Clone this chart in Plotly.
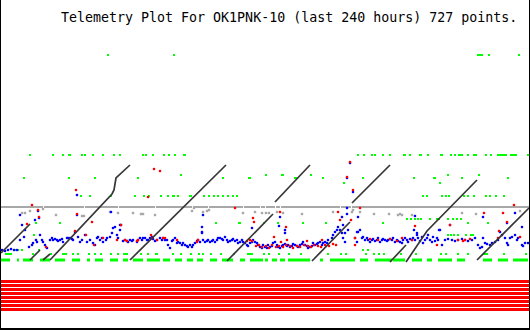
import plotly.graph_objects as go

# ---------------- data (x: time index across plot, y: plotted level, screen-like units) -------------
title_text = "Telemetry Plot For OK1PNK-10 (last 240 hours) 727 points."

# bottom saturated channel (red horizontal stripes)
red_stripe_levels = [281.5, 285.5, 289.5, 293.5, 297.5, 301.5, 305.5, 309.5]

# gray reference channel
gray_line_level = 207
gray_line_spans = [(1, 43), (44, 84), (85, 118), (119, 155), (156, 192), (193, 208), (209, 243),
                   (244, 260), (261, 265), (266, 275), (276, 280), (281, 340), (341, 351), (352, 529)]
gray_points = [(22, 213), (25, 213), (30, 211), (43, 209), (56, 215), (82, 216), (84, 216), (110, 212),
               (118, 213), (133, 213), (141, 214), (143, 214), (155, 215), (192, 211), (194, 208),
               (203, 212), (207, 211), (209, 210), (243, 213), (255, 212), (262, 213), (266, 213),
               (269, 213), (277, 212), (283, 213), (302, 214), (333, 212), (352, 212), (353, 210),
               (360, 212), (374, 214), (389, 214), (398, 215), (400, 214), (402, 215), (412, 215),
               (462, 213), (476, 214), (520, 211)]

# green channel rows: (level, [(x_start, x_end), ...])
green_row_55 = [(107, 109), (173, 175), (477, 483), (488, 490), (518, 520)]
green_row_155 = [(29, 31), (52, 54), (62, 64), (68, 71), (81, 83), (84, 86), (92, 94), (102, 104),
                 (113, 115), (119, 121), (142, 144), (145, 147), (152, 154), (163, 165), (168, 170),
                 (174, 176), (183, 186), (357, 359), (363, 365), (371, 373), (374, 376), (382, 384),
                 (389, 391), (403, 406), (409, 411), (419, 422), (427, 429), (440, 443), (450, 452),
                 (454, 456), (458, 463), (467, 469), (473, 477), (485, 487), (490, 492), (497, 507),
                 (510, 517), (527, 529)]
green_row_175 = [(180, 182), (265, 267), (281, 284), (310, 312), (447, 449), (478, 480)]
green_row_178 = [(23, 25), (68, 70), (94, 96), (137, 139), (222, 224), (248, 251), (294, 297),
                 (322, 324), (362, 364), (413, 415), (433, 436), (461, 463), (507, 509)]
green_row_183 = [(439, 441), (343, 345)]
green_row_196 = [(80, 82), (89, 91), (110, 112), (134, 136), (143, 145), (148, 150), (160, 162),
                 (167, 169), (172, 175), (177, 179), (189, 192), (203, 205), (208, 210), (213, 215),
                 (217, 219), (222, 224), (227, 229), (232, 234), (236, 238), (422, 424), (426, 428),
                 (441, 443), (445, 447), (448, 450), (463, 465), (467, 469), (473, 475), (485, 487),
                 (489, 491), (495, 497), (503, 505)]
green_row_219 = [(406, 408), (410, 412), (414, 416), (417, 419), (420, 422), (429, 431), (436, 440),
                 (447, 449), (452, 454), (456, 458), (460, 462)]
green_row_223 = [(35, 37), (59, 61), (215, 217), (238, 241), (263, 265), (277, 279), (302, 304),
                 (325, 327), (382, 384), (467, 469), (487, 489)]
green_row_235 = [(447, 449), (450, 452), (453, 455), (457, 459), (465, 467), (470, 474), (33, 35)]
green_row_250 = [(13, 19), (21, 23), (38, 40), (362, 364), (367, 369)]
green_row_254 = [(5, 12), (32, 34), (50, 52), (62, 67), (72, 74), (77, 79), (88, 90), (94, 96),
                 (100, 102), (110, 112), (117, 119), (123, 128), (140, 142), (147, 149), (155, 158),
                 (172, 174), (180, 182), (190, 192), (198, 200), (202, 204), (210, 212), (220, 222),
                 (233, 235), (247, 253), (263, 265), (268, 270), (278, 280), (288, 290), (300, 302),
                 (327, 329), (340, 342), (345, 347), (365, 367), (373, 375), (378, 380), (383, 385),
                 (400, 402), (415, 417), (440, 442), (445, 447), (457, 459), (467, 469), (483, 488),
                 (503, 505), (525, 527)]
green_row_260 = [(1, 10), (17, 19), (23, 33), (40, 50), (55, 65), (72, 80), (87, 90), (95, 103),
                 (110, 118), (123, 128), (133, 143), (147, 160), (163, 170), (175, 182), (187, 193),
                 (197, 203), (210, 217), (222, 233), (240, 245), (250, 263), (265, 268), (272, 277),
                 (280, 285), (288, 310), (320, 323), (330, 355), (360, 368), (375, 392), (393, 405),
                 (412, 422), (427, 432), (438, 452), (457, 465), (483, 492), (498, 508), (513, 528)]

# blue channel (main noisy band plus excursions)
blue_points = [
    (2, 250), (5, 251), (8, 250), (11, 249), (14, 250), (17, 250), (20, 240), (24, 237), (25, 230),
    (29, 247), (32, 245), (33, 243), (36, 240), (37, 242), (40, 235), (42, 240), (43, 242), (45, 245),
    (47, 248), (50, 240), (52, 238), (53, 240), (55, 239), (57, 240), (58, 241), (60, 240), (62, 239),
    (63, 242), (67, 238), (68, 238), (70, 238), (72, 239), (73, 240), (75, 232), (78, 237), (80, 242),
    (82, 240), (85, 235), (87, 242), (90, 240), (93, 243), (95, 245), (97, 238), (98, 237), (100, 240),
    (102, 238), (103, 242), (106, 240), (107, 238), (110, 237), (112, 233), (113, 228), (115, 227),
    (117, 235), (118, 238), (120, 230), (121, 225), (123, 241), (125, 240), (127, 241), (128, 242),
    (130, 240), (132, 241), (133, 240), (137, 242), (138, 240), (140, 238), (142, 240), (143, 238),
    (145, 238), (147, 240), (148, 240), (150, 238), (152, 237), (153, 239), (155, 241), (157, 240),
    (160, 238), (162, 240), (163, 238), (165, 240), (167, 240), (168, 245), (170, 248), (172, 241),
    (173, 240), (175, 238), (177, 243), (178, 242), (180, 243), (182, 245), (183, 243), (185, 245),
    (187, 246), (188, 247), (190, 245), (192, 247), (193, 245), (195, 243), (197, 241), (198, 240),
    (200, 242), (202, 232), (202, 227), (203, 240), (205, 242), (207, 241), (208, 240), (210, 242),
    (212, 241), (213, 240), (215, 242), (217, 240), (218, 238), (220, 238), (222, 239), (223, 240),
    (225, 237), (227, 240), (228, 242), (230, 241), (232, 240), (233, 239), (235, 241), (237, 240),
    (238, 243), (240, 242), (242, 240), (243, 242), (245, 243), (247, 245), (248, 246), (250, 243),
    (252, 242), (253, 240), (255, 242), (257, 243), (258, 245), (260, 247), (262, 248), (263, 245),
    (265, 247), (267, 248), (268, 245), (270, 247), (272, 246), (273, 243), (275, 242), (277, 245),
    (278, 247), (280, 248), (282, 246), (283, 245), (285, 244), (287, 246), (288, 245), (290, 247),
    (292, 246), (293, 244), (295, 245), (297, 246), (298, 247), (300, 245), (302, 244), (303, 242),
    (305, 245), (307, 246), (308, 248), (310, 247), (312, 246), (313, 243), (315, 245), (317, 244),
    (318, 243), (320, 242), (322, 245), (323, 243), (325, 242), (327, 243), (328, 240), (332, 238),
    (333, 235), (335, 232), (337, 230), (338, 227), (340, 230), (342, 233), (343, 238), (345, 242),
    (355, 238), (357, 242), (358, 232), (360, 230), (362, 238), (363, 237), (365, 240), (367, 238),
    (368, 240), (370, 242), (372, 240), (373, 239), (375, 241), (377, 240), (378, 238), (380, 242),
    (382, 240), (383, 239), (385, 240), (387, 241), (388, 240), (390, 239), (392, 240), (393, 238),
    (395, 242), (397, 240), (398, 241), (400, 242), (402, 243), (403, 240), (405, 238), (407, 240),
    (408, 242), (410, 239), (412, 240), (413, 238), (415, 240), (417, 235), (418, 238), (420, 241),
    (422, 237), (423, 243), (425, 240), (427, 238), (428, 235), (430, 240), (432, 242), (433, 237),
    (435, 241), (437, 238), (438, 240), (440, 230), (442, 245), (445, 240), (448, 239), (452, 240),
    (455, 241), (458, 240), (462, 239), (465, 240), (468, 241), (472, 240), (475, 238), (478, 245),
    (480, 248), (482, 247), (483, 238), (485, 243), (487, 244), (490, 245), (492, 243), (495, 242),
    (498, 240), (500, 232), (502, 235), (505, 238), (507, 243), (508, 245), (510, 238), (512, 237),
    (515, 235), (517, 240), (518, 238), (522, 245), (523, 246), (525, 243), (528, 243),
    # excursions
    (20, 215), (22, 225), (35, 220), (38, 211), (39, 218), (77, 195), (77, 215), (111, 212),
    (120, 225), (203, 215), (202, 233), (252, 228), (280, 217), (279, 226), (285, 230), (285, 233),
    (347, 214), (347, 208), (342, 217), (343, 225), (345, 233), (348, 230), (347, 178), (350, 163),
    (353, 192), (358, 217), (357, 232), (414, 230), (415, 216), (417, 233), (439, 230), (450, 225),
    (483, 217), (507, 223), (515, 213), (522, 227)]

# red channel
red_points = [
    (32, 205), (38, 210), (39, 217), (27, 224), (46, 247), (75, 231), (76, 190), (77, 214), (86, 235),
    (92, 222), (94, 245), (103, 238), (117, 240), (121, 225), (125, 240), (127, 241), (137, 241),
    (138, 240), (148, 197), (151, 235), (152, 238), (154, 169), (157, 240), (160, 171), (163, 238),
    (165, 238), (177, 240), (197, 242), (198, 240), (235, 208), (247, 241), (250, 240), (252, 241),
    (253, 218), (254, 222), (256, 246), (259, 245), (262, 247), (266, 246), (269, 248), (272, 245),
    (274, 237), (276, 247), (279, 246), (280, 212), (281, 242), (283, 247), (286, 227), (286, 245),
    (287, 240), (290, 246), (293, 248), (297, 246), (300, 247), (304, 245), (307, 241), (308, 246),
    (311, 247), (314, 245), (318, 246), (321, 247), (322, 240), (325, 245), (329, 246), (333, 244),
    (336, 245), (338, 212), (340, 220), (347, 177), (350, 162), (351, 220), (353, 190), (355, 238),
    (355, 245), (360, 208), (370, 239), (378, 240), (390, 239), (397, 241), (402, 238), (412, 240),
    (415, 226), (437, 245), (450, 225), (458, 240), (463, 241), (465, 240), (470, 239), (484, 213),
    (498, 238), (499, 231), (503, 213), (507, 222), (514, 205), (520, 237)]

# dark (ramping counter) channel: polylines
ramp_segments = [
    [(1, 253), (30, 224)],
    [(30, 260), (40, 250)],
    [(43, 260), (50, 254)],
    [(50, 260), (112, 194), (114, 190), (116, 178), (130, 165)],
    [(130, 260), (226, 165)],
    [(227, 261), (273, 214)],
    [(275, 202), (310, 165)],
    [(312, 261), (350, 222)],
    [(352, 203), (390, 165)],
    [(390, 262), (406, 245)],
    [(406, 262), (427, 231), (477, 180)],
    [(477, 260), (529, 208)],
]

# ---------------- figure -------------
W, H = 530, 330
fig = go.Figure()


def seg_trace(rows, color, width):
    xs, ys = [], []
    for level, spans in rows:
        for a, b in spans:
            xs += [a, b, None]
            ys += [level, level, None]
    return go.Scatter(x=xs, y=ys, mode="lines", line=dict(color=color, width=width),
                      hoverinfo="skip", showlegend=False)


# red stripes
fig.add_trace(seg_trace([(lv, [(1, 529)]) for lv in red_stripe_levels], "#ff0000", 3))
# gray line + gray points
fig.add_trace(seg_trace([(gray_line_level, gray_line_spans)], "#a8a8a8", 2))
fig.add_trace(go.Scatter(x=[p[0] for p in gray_points], y=[p[1] for p in gray_points], mode="markers",
                         marker=dict(symbol="square", size=2.4, color="#a8a8a8", line=dict(width=0)),
                         hoverinfo="skip", showlegend=False))
# green rows
green_rows = [(55, green_row_55), (155, green_row_155), (175, green_row_175), (178, green_row_178),
              (183, green_row_183), (196, green_row_196), (219, green_row_219), (223, green_row_223),
              (235, green_row_235), (250, green_row_250), (254, green_row_254)]
fig.add_trace(seg_trace(green_rows, "#00ff00", 2))
fig.add_trace(seg_trace([(260, green_row_260)], "#00ff00", 3))
# blue
fig.add_trace(go.Scatter(x=[p[0] for p in blue_points], y=[p[1] for p in blue_points], mode="markers",
                         marker=dict(symbol="square", size=2.3, color="#0000ff", line=dict(width=0)),
                         hoverinfo="skip", showlegend=False))
# red
fig.add_trace(go.Scatter(x=[p[0] for p in red_points], y=[p[1] for p in red_points], mode="markers",
                         marker=dict(symbol="square", size=2.3, color="#ff0000", line=dict(width=0)),
                         hoverinfo="skip", showlegend=False))
# ramps
rx, ry = [], []
for seg in ramp_segments:
    rx += [p[0] for p in seg] + [None]
    ry += [p[1] for p in seg] + [None]
fig.add_trace(go.Scatter(x=rx, y=ry, mode="lines", line=dict(color="#363636", width=1.7),
                         hoverinfo="skip", showlegend=False))

fig.add_annotation(text=title_text, xref="paper", yref="paper", x=59 / W, y=1 - 17 / H,
                   xanchor="left", yanchor="middle", showarrow=False,
                   font=dict(family="DejaVu Sans Mono", size=13.3, color="#000000"))

# frame
fig.add_shape(type="line", x0=0.5, x1=0.5, y0=0, y1=330, xref="x", yref="y",
              line=dict(color="#000000", width=1))
fig.add_shape(type="line", x0=529.5, x1=529.5, y0=0, y1=330, xref="x", yref="y",
              line=dict(color="#000000", width=1))
fig.add_shape(type="line", x0=0, x1=530, y0=329, y1=329, xref="x", yref="y",
              line=dict(color="#000000", width=2))

fig.update_layout(width=W, height=H, margin=dict(l=0, r=0, t=0, b=0, pad=0),
                  paper_bgcolor="#ffffff", plot_bgcolor="#ffffff", showlegend=False)
fig.update_xaxes(visible=False, range=[0, W], fixedrange=True)
fig.update_yaxes(visible=False, range=[H, 0], fixedrange=True)

fig.write_html("out.html", config={"displayModeBar": False, "staticPlot": True})
